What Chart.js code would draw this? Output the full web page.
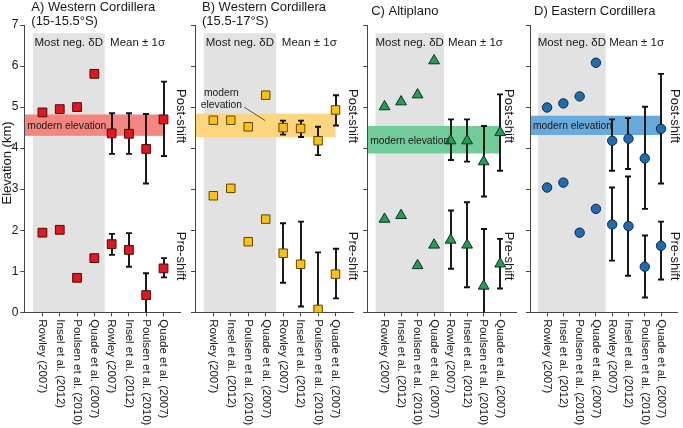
<!DOCTYPE html>
<html>
<head>
<meta charset="utf-8">
<script src="https://cdn.jsdelivr.net/npm/chart.js@4"></script>
<style>
  html, body { margin: 0; padding: 0; background: #fff; }
  #wrap { position: relative; width: 683px; height: 428px; overflow: hidden; }
  #wrap canvas { position: absolute; top: 0; }
</style>
</head>
<body>
<div id="wrap">
  <canvas id="cA" width="188" height="428" style="left:0px"></canvas>
  <canvas id="cB" width="172" height="428" style="left:188px"></canvas>
  <canvas id="cC" width="164" height="428" style="left:360px"></canvas>
  <canvas id="cD" width="159" height="428" style="left:524px"></canvas>
</div>
<script>
const studies = ['Rowley (2007)', 'Insel et al. (2012)', 'Poulsen et al. (2010)', 'Quade et al. (2007)'];
const categories = studies.concat(studies);
const yTicks = [0, 1, 2, 3, 4, 5, 6, 7];

// A) Western Cordillera (15-15.5°S)
const aNegPost = [4.87, 4.95, 5.00, 5.81];
const aNegPre = [1.94, 2.01, 0.84, 1.32];
const aMeanPost = [4.36, 4.35, 3.98, 4.70];
const aMeanPostLo = [3.86, 3.86, 3.14, 3.81];
const aMeanPostHi = [4.85, 4.85, 4.83, 5.62];
const aMeanPre = [1.66, 1.52, 0.42, 1.07];
const aMeanPreLo = [1.40, 1.11, 0.00, 0.85];
const aMeanPreHi = [1.91, 1.93, 0.95, 1.32];
const aModern = [4.30, 4.82];

// B) Western Cordillera (15.5-17°S)
const bNegPost = [4.68, 4.68, 4.52, 5.29];
const bNegPre = [2.84, 3.02, 1.72, 2.27];
const bMeanPost = [4.50, 4.48, 4.18, 4.93];
const bMeanPostLo = [4.33, 4.27, 3.83, 4.55];
const bMeanPostHi = [4.67, 4.67, 4.52, 5.29];
const bMeanPre = [1.44, 1.17, 0.07, 0.93];
const bMeanPreLo = [0.72, 0.14, 0.00, 0.34];
const bMeanPreHi = [2.17, 2.21, 1.46, 1.55];
const bModern = [4.27, 4.84];

// C) Altiplano
const cNegPost = [5.01, 5.13, 5.30, 6.13];
const cNegPre = [2.27, 2.36, 1.14, 1.64];
const cMeanPost = [4.18, 4.18, 3.67, 4.38];
const cMeanPostLo = [3.71, 3.67, 2.82, 3.45];
const cMeanPostHi = [4.70, 4.70, 4.54, 5.31];
const cMeanPre = [1.76, 1.64, 0.64, 1.18];
const cMeanPreLo = [1.06, 0.61, 0.00, 0.58];
const cMeanPreHi = [2.48, 2.68, 2.03, 1.79];
const cModern = [3.87, 4.54];

// D) Eastern Cordillera
const dNegPost = [4.99, 5.09, 5.26, 6.08];
const dNegPre = [3.04, 3.16, 1.94, 2.52];
const dMeanPost = [4.18, 4.23, 3.75, 4.47];
const dMeanPostLo = [3.45, 3.49, 2.52, 3.14];
const dMeanPostHi = [4.70, 4.73, 5.01, 5.81];
const dMeanPre = [2.14, 2.10, 1.11, 1.62];
const dMeanPreLo = [1.26, 0.89, 0.36, 0.80];
const dMeanPreHi = [3.04, 3.31, 1.87, 2.21];
const dModern = [4.32, 4.79];

const FONT = "'Liberation Sans', Arial, sans-serif";
const INK = '#1a1718';
const AXIS = '#444';

const panels = [
  { id: 'cA', left: 0, plotLeft: 24.3, plotRight: 182.7, title: ['A) Western Cordillera', '(15-15.5°S)'],
    shape: 'rect', radius: 6.2, fill: '#e3171d', edge: '#4a0c0c', band: '#f3867e',
    negPost: aNegPost, negPre: aNegPre, meanPost: aMeanPost, postLo: aMeanPostLo, postHi: aMeanPostHi,
    meanPre: aMeanPre, preLo: aMeanPreLo, preHi: aMeanPreHi, modern: aModern,
    shiftX: 8.0, yLabels: true, bandLabel: 'inside' },
  { id: 'cB', left: 188, plotLeft: 195, plotRight: 353.3, title: ['B) Western Cordillera', '(15.5-17°S)'],
    shape: 'rect', radius: 6.0, fill: '#fcc010', edge: '#5e4300', band: '#fbd67f',
    negPost: bNegPost, negPre: bNegPre, meanPost: bMeanPost, postLo: bMeanPostLo, postHi: bMeanPostHi,
    meanPre: bMeanPre, preLo: bMeanPreLo, preHi: bMeanPreHi, modern: bModern,
    shiftX: 8.0, yLabels: false, bandLabel: 'above' },
  { id: 'cC', left: 360, plotLeft: 365.7, plotRight: 516.7, title: ['C) Altiplano'],
    shape: 'triangle', radius: 6.2, fill: '#1f9e54', edge: '#0b3319', band: '#72cc9a',
    negPost: cNegPost, negPre: cNegPre, meanPost: cMeanPost, postLo: cMeanPostLo, postHi: cMeanPostHi,
    meanPre: cMeanPre, preLo: cMeanPreLo, preHi: cMeanPreHi, modern: cModern,
    shiftX: 7.5, yLabels: false, bandLabel: 'inside' },
  { id: 'cD', left: 524, plotLeft: 530, plotRight: 680, title: ['D) Eastern Cordillera'],
    shape: 'circle', radius: 4.7, fill: '#1f6cb2', edge: '#0a2747', band: '#69aadd',
    negPost: dNegPost, negPre: dNegPre, meanPost: dMeanPost, postLo: dMeanPostLo, postHi: dMeanPostHi,
    meanPre: dMeanPre, preLo: dMeanPreLo, preHi: dMeanPreHi, modern: dModern,
    shiftX: 7.82, yLabels: false, bandLabel: 'inside' }
];

function pts(values, offset) {
  return values.map((v, i) => ({ x: i + offset, y: v }));
}

function makePanel(p) {
  const canvas = document.getElementById(p.id);

  const decor = {
    id: 'decor',
    beforeDraw(chart) {
      const { ctx, scales } = chart;
      const x = scales.x, y = scales.y;
      ctx.save();
      // grey block behind the "most negative" group
      ctx.fillStyle = '#e2e2e2';
      const gx0 = x.getPixelForValue(-0.55), gx1 = x.getPixelForValue(3.6);
      const gy0 = y.getPixelForValue(6.8), gy1 = y.getPixelForValue(0);
      ctx.fillRect(gx0, gy0, gx1 - gx0, gy1 - gy0);
      // modern elevation band
      ctx.fillStyle = p.band;
      const bx0 = x.getPixelForValue(x.min), bx1 = x.getPixelForValue(7);
      const by0 = y.getPixelForValue(p.modern[1]), by1 = y.getPixelForValue(p.modern[0]);
      ctx.fillRect(bx0, by0, bx1 - bx0, by1 - by0);
      ctx.restore();
    },
    beforeDatasetsDraw(chart) {
      const { ctx, scales } = chart;
      const x = scales.x, y = scales.y;
      ctx.save();
      ctx.strokeStyle = '#111';
      ctx.lineWidth = 1.9;
      const bars = (mid, lo, hi) => mid.forEach((v, i) => {
        const px = Math.round(x.getPixelForValue(i + 4));
        const top = y.getPixelForValue(hi[i]);
        const bot = y.getPixelForValue(lo[i]);
        ctx.beginPath();
        ctx.moveTo(px, top); ctx.lineTo(px, bot);
        ctx.moveTo(px - 3, top); ctx.lineTo(px + 3, top);
        if (lo[i] > 0) { ctx.moveTo(px - 3, bot); ctx.lineTo(px + 3, bot); }
        ctx.stroke();
      });
      bars(p.meanPost, p.postLo, p.postHi);
      bars(p.meanPre, p.preLo, p.preHi);
      ctx.restore();
    },
    afterDraw(chart) {
      const { ctx, scales, chartArea } = chart;
      const x = scales.x, y = scales.y;
      ctx.save();
      ctx.fillStyle = INK;

      // titles
      ctx.font = '13px ' + FONT;
      ctx.textAlign = 'left';
      ctx.textBaseline = 'middle';
      if (p.title.length === 2) {
        ctx.fillText(p.title[0], chartArea.left + 7, 7);
        ctx.fillText(p.title[1], chartArea.left + 7, 21);
      } else {
        ctx.fillText(p.title[0], chartArea.left + 4, 11);
      }

      // group headers
      ctx.font = '11.5px ' + FONT;
      ctx.textAlign = 'center';
      ctx.fillText('Most neg. δD', x.getPixelForValue(1.52), y.getPixelForValue(6.56));
      ctx.fillText('Mean ± 1σ', x.getPixelForValue(5.5), y.getPixelForValue(6.56));

      // modern elevation label
      ctx.font = '10.3px ' + FONT;
      const bandMid = y.getPixelForValue((p.modern[0] + p.modern[1]) / 2);
      if (p.bandLabel === 'inside') {
        ctx.textAlign = 'left';
        ctx.fillText('modern elevation', chartArea.left + 3, bandMid + 1);
      } else {
        ctx.textAlign = 'center';
        ctx.fillText('modern', x.getPixelForValue(0.46), y.getPixelForValue(5.34));
        ctx.fillText('elevation', x.getPixelForValue(0.46), y.getPixelForValue(5.05));
        ctx.strokeStyle = '#333';
        ctx.lineWidth = 0.8;
        ctx.beginPath();
        ctx.moveTo(x.getPixelForValue(1.76), y.getPixelForValue(5.0));
        ctx.lineTo(x.getPixelForValue(2.97), y.getPixelForValue(4.67));
        ctx.stroke();
      }

      // post / pre shift labels, rotated clockwise
      ctx.font = '13px ' + FONT;
      ctx.textAlign = 'center';
      [['Post-shift', 4.78], ['Pre-shift', 1.37]].forEach(([t, v]) => {
        ctx.save();
        ctx.translate(x.getPixelForValue(p.shiftX), y.getPixelForValue(v));
        ctx.rotate(Math.PI / 2);
        ctx.fillText(t, 0, 0);
        ctx.restore();
      });

      // category labels, rotated clockwise
      ctx.font = '11.5px ' + FONT;
      ctx.textAlign = 'left';
      categories.forEach((c, i) => {
        ctx.save();
        ctx.translate(x.getPixelForValue(i), chartArea.bottom + 7);
        ctx.rotate(Math.PI / 2);
        ctx.fillText(c, 0, 0);
        ctx.restore();
      });

      // y axis title on the first panel
      if (p.yLabels) {
        ctx.font = '13px ' + FONT;
        ctx.textAlign = 'center';
        ctx.save();
        ctx.translate(7, 163);
        ctx.rotate(-Math.PI / 2);
        ctx.fillText('Elevation (km)', 0, 0);
        ctx.restore();
      }
      ctx.restore();
    }
  };

  const marker = {
    pointStyle: p.shape,
    pointRadius: p.radius,
    backgroundColor: p.fill,
    borderColor: p.edge,
    borderWidth: 1,
    showLine: false
  };

  return new Chart(canvas.getContext('2d'), {
    type: 'scatter',
    data: {
      datasets: [
        Object.assign({ label: 'most neg post', data: pts(p.negPost, 0) }, marker),
        Object.assign({ label: 'most neg pre', data: pts(p.negPre, 0) }, marker),
        Object.assign({ label: 'mean post', data: pts(p.meanPost, 4) }, marker),
        Object.assign({ label: 'mean pre', data: pts(p.meanPre, 4) }, marker)
      ]
    },
    options: {
      responsive: false,
      animation: false,
      events: [],
      layout: { padding: { left: 0, top: 25, right: canvas.width - (p.plotRight - p.left), bottom: 0 } },
      plugins: { legend: { display: false }, tooltip: { enabled: false } },
      scales: {
        x: {
          type: 'linear',
          min: -1.05,
          max: 8.0,
          afterBuildTicks: s => { s.ticks = categories.map((c, i) => ({ value: i })); },
          afterFit: s => { s.height = 428 - 312.3; },
          ticks: { display: false },
          grid: { display: true, drawOnChartArea: false, drawTicks: true, tickLength: 4, color: AXIS },
          border: { display: true, color: AXIS, width: 1 }
        },
        y: {
          min: 0,
          max: 7,
          afterBuildTicks: s => { s.ticks = yTicks.map(v => ({ value: v })); },
          afterFit: s => { s.width = p.plotLeft - p.left; },
          ticks: { display: p.yLabels, padding: 2, color: INK, font: { family: FONT, size: 12 } },
          grid: { display: true, drawOnChartArea: false, drawTicks: true, tickLength: 4, color: AXIS },
          border: { display: true, color: AXIS, width: 1 }
        }
      }
    },
    plugins: [decor]
  });
}

panels.forEach(makePanel);
</script>
</body>
</html>
